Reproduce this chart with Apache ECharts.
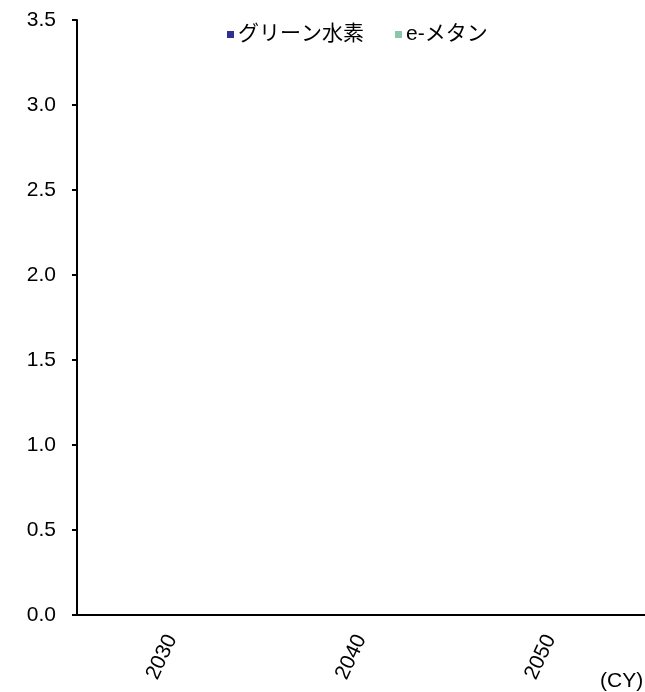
<!DOCTYPE html>
<html>
<head>
<meta charset="utf-8">
<script src="https://cdn.jsdelivr.net/npm/echarts@6/dist/echarts.min.js"></script>
<style>
  html, body { margin: 0; padding: 0; background: #fff; }
  #chart { width: 645px; height: 692px; }
</style>
</head>
<body>
<div id="chart"></div>
<script>
// Fiscal years on the category axis
const years = ['2030', '2040', '2050'];
// Supply volumes per year (no amounts recorded yet)
const greenHydrogen = [0, 0, 0];
const eMethane = [0, 0, 0];
// Value axis ticks
const yTicks = [0, 0.5, 1.0, 1.5, 2.0, 2.5, 3.0, 3.5];

const FONT = '"Liberation Sans", Arial, "Noto Sans CJK JP", sans-serif';
const FS = 21;

const chart = echarts.init(document.getElementById('chart'), null, { renderer: 'canvas' });
chart.setOption({
  animation: false,
  backgroundColor: '#ffffff',
  legend: {
    top: 19,
    left: 222,
    itemWidth: 7,
    itemHeight: 7,
    itemGap: 31,
    icon: 'rect',
    textStyle: { fontFamily: FONT, fontSize: FS, color: '#000', padding: [0, 0, 0, -1] },
    data: ['グリーン水素', 'e-メタン']
  },
  grid: { left: 77, right: -10, top: 20, bottom: 77, containLabel: false },
  xAxis: {
    type: 'category',
    data: years,
    axisLine: { lineStyle: { color: '#000', width: 2 } },
    axisTick: { show: false },
    axisLabel: {
      rotate: 65,
      margin: 21,
      fontFamily: FONT,
      fontSize: FS,
      color: '#000'
    },
    splitLine: { show: false }
  },
  yAxis: {
    type: 'value',
    min: yTicks[0],
    max: yTicks[yTicks.length - 1],
    interval: 0.5,
    axisLine: { show: true, lineStyle: { color: '#000', width: 2 } },
    axisTick: { show: true, inside: false, length: 5, lineStyle: { color: '#000', width: 2 } },
    axisLabel: {
      margin: 21,
      fontFamily: FONT,
      fontSize: FS,
      color: '#000',
      formatter: v => v.toFixed(1)
    },
    splitLine: { show: false }
  },
  graphic: [{
    type: 'text',
    left: 600,
    top: 671,
    style: { text: '(CY)', font: FS + 'px ' + FONT, fill: '#000' }
  }],
  series: [
    {
      name: 'グリーン水素',
      type: 'bar',
      stack: 'total',
      barWidth: '45%',
      itemStyle: { color: '#2E3192' },
      data: greenHydrogen
    },
    {
      name: 'e-メタン',
      type: 'bar',
      stack: 'total',
      barWidth: '45%',
      itemStyle: { color: '#8CC6A8' },
      data: eMethane
    }
  ]
});
</script>
</body>
</html>
